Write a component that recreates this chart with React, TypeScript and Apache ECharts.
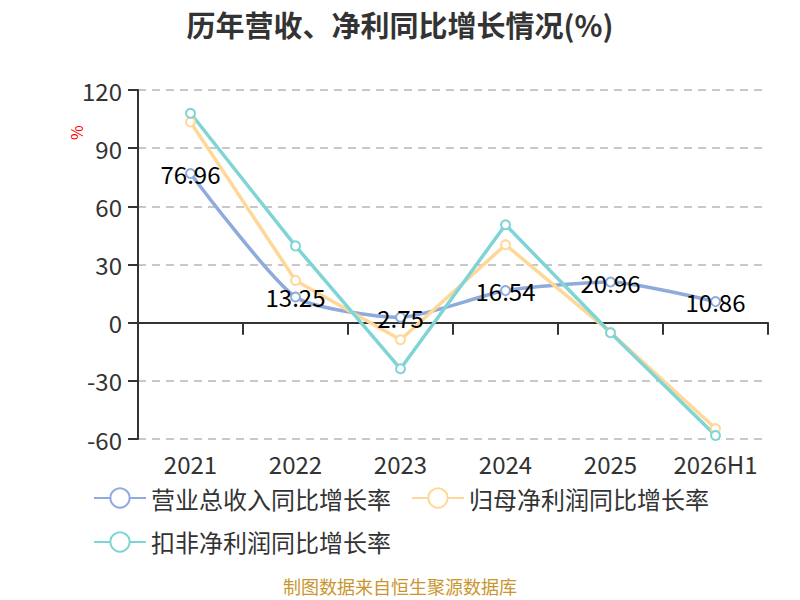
import React, { useEffect, useRef } from "react";
import * as echarts from "echarts";

const categories = ["2021", "2022", "2023", "2024", "2025", "2026H1"];
const revenueGrowth = [76.96, 13.25, 2.75, 16.54, 20.96, 10.86];
const netProfitGrowth = [103.5, 21.8, -8.8, 40.2, -5.0, -54.6];
const deductedProfitGrowth = [108.0, 39.6, -23.8, 50.5, -5.2, -58.2];
const seriesNames = ["营业总收入同比增长率", "归母净利润同比增长率", "扣非净利润同比增长率"];
const colors = ["#8FAADC", "#FFD898", "#7FD4D6"];

const FONT = "'Noto Sans CJK SC', 'Noto Sans', sans-serif";

export default function App() {
  const ref = useRef<HTMLDivElement>(null);
  useEffect(() => {
    document.body.style.margin = "0";
    if (!ref.current) return;
    const chart = echarts.init(ref.current, undefined, { renderer: "svg" });
    const mkSeries = (name: string, data: number[], color: string, smooth: any, label: boolean) => ({
      name,
      type: "line",
      data,
      smooth,
      symbol: "emptyCircle",
      symbolSize: 9,
      lineStyle: { color, width: 3.5 },
      itemStyle: { color, borderWidth: 2 },
      label: label
        ? {
            show: true,
            position: "inside",
            color: "#000",
            fontSize: 24,
            fontFamily: FONT,
            formatter: (p: any) => p.value.toFixed(2),
          }
        : { show: false },
    });
    chart.setOption({
      animation: false,
      textStyle: { fontFamily: FONT },
      title: {
        text: "历年营收、净利同比增长情况(%)",
        left: "center",
        top: 4,
        textStyle: { fontSize: 29, fontWeight: "bold", color: "#333", fontFamily: FONT },
      },
      graphic: [
        {
          type: "text",
          x: 68,
          y: 140,
          rotation: Math.PI / 2,
          style: { text: "%", fill: "#ff0000", fontSize: 16, fontFamily: FONT },
        },
        {
          type: "text",
          left: "center",
          top: 577,
          style: { text: "制图数据来自恒生聚源数据库", fill: "#C9962E", fontSize: 18, fontFamily: FONT },
        },
      ],
      legend: {
        left: 88,
        top: 481,
        width: 660,
        itemWidth: 52,
        itemHeight: 24,
        itemGap: 20,
        textStyle: { fontSize: 24, color: "#333", fontFamily: FONT },
        data: seriesNames,
      },
      grid: { left: 138, right: 32, top: 90, bottom: 161, containLabel: false },
      xAxis: [
        {
          type: "category",
          data: categories,
          position: "bottom",
          axisLine: { show: false, onZero: false },
          axisTick: { show: false },
          axisLabel: { fontSize: 24, color: "#333", margin: 12, interval: 0, fontFamily: FONT },
        },
        {
          type: "category",
          data: categories,
          position: "bottom",
          axisLine: { show: true, onZero: true, lineStyle: { color: "#333", width: 2 } },
          axisTick: { show: true, length: 12, lineStyle: { color: "#333", width: 2 } },
          axisLabel: { show: false },
        },
      ],
      yAxis: {
        type: "value",
        min: -60,
        max: 120,
        interval: 30,
        axisLine: { show: true, lineStyle: { color: "#333", width: 2 } },
        axisTick: { show: true, length: 10, lineStyle: { color: "#333", width: 2 } },
        axisLabel: { fontSize: 24, color: "#333", margin: 16, fontFamily: FONT },
        splitLine: { show: true, lineStyle: { type: [8, 6], color: "#c8c8c8", width: 2 } },
      },
      series: [
        mkSeries(seriesNames[0], revenueGrowth, colors[0], 0.2, true),
        mkSeries(seriesNames[1], netProfitGrowth, colors[1], false, false),
        mkSeries(seriesNames[2], deductedProfitGrowth, colors[2], false, false),
      ],
    });
    return () => chart.dispose();
  }, []);
  return <div ref={ref} style={{ width: 800, height: 600 }} />;
}
